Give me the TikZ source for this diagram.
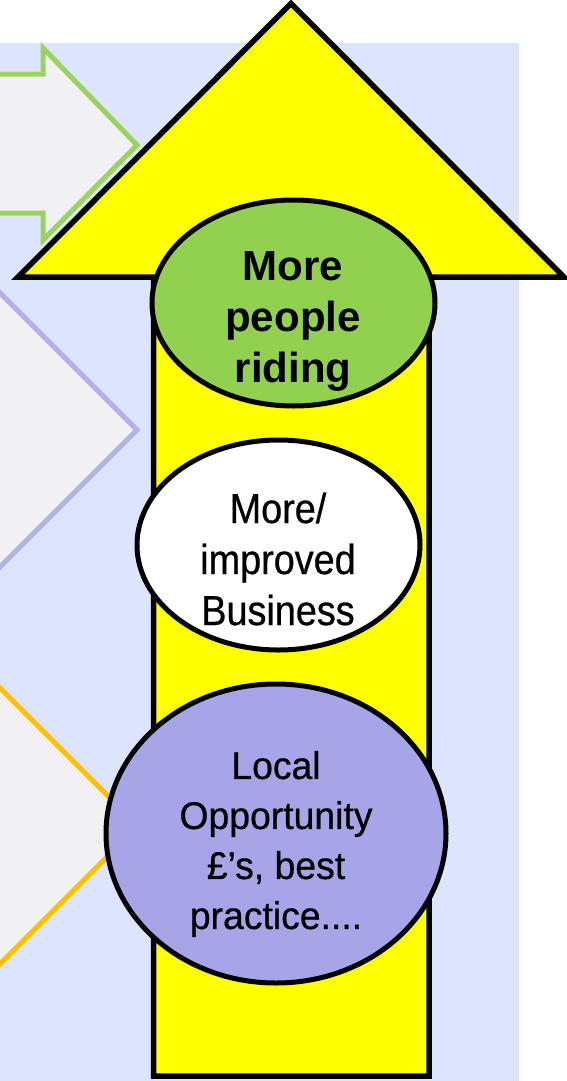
\documentclass[tikz,border=0pt]{standalone}
\usepackage{fontspec}
\usetikzlibrary{shapes.geometric}
\newfontfamily\lsans{Liberation Sans}
\newfontfamily\narrowA[FakeStretch=0.9,FakeBold=0.6]{Liberation Sans}
\newfontfamily\narrowB[FakeStretch=0.97,FakeBold=0.6]{Liberation Sans}
\definecolor{bgblue}{HTML}{DDE4FD}
\definecolor{shapefill}{HTML}{F1F1F3}
\definecolor{greenline}{HTML}{9BD35E}
\definecolor{greenfill}{HTML}{92D050}
\definecolor{purpleline}{HTML}{B3B3EA}
\definecolor{orangeline}{HTML}{FFC000}
\definecolor{purplefill}{HTML}{A5A5E8}
\definecolor{arrowyellow}{HTML}{FFFF00}
\tikzset{
  sideshape/.style={fill=shapefill, line width=5pt, line join=miter},
  bigarrow/.style={fill=arrowyellow, draw=black, line width=5.5pt, line join=miter},
  bubble/.style={ellipse, draw=black, line width=5pt, inner sep=0pt},
  bubbletext/.style={align=center, inner sep=0pt, text=black},
}
\begin{document}
\begin{tikzpicture}[x=1pt, y=-1pt]
\useasboundingbox (0,0) rectangle (567,1081);
\clip (0,0) rectangle (567,1081);
% background panel
\fill[bgblue] (0,43) rectangle (519,1090);
% left shapes
\draw[sideshape, draw=greenline] (-20,74) -- (43,74) -- (43,48) -- (137,145) -- (43,240) -- (43,213) -- (-20,213) -- cycle;
\draw[sideshape, draw=purpleline] (-20,273) -- (137,430) -- (-20,587) -- cycle;
\draw[sideshape, draw=orangeline] (-20,668) -- (138,826) -- (-20,984) -- cycle;
% big yellow arrow
\draw[bigarrow] (291,3.5) -- (564,277) -- (429,277) -- (429,1076) -- (153.5,1076) -- (153.5,277) -- (18,277) -- cycle;
% bubbles
\node[bubble, fill=greenfill, minimum width=283pt, minimum height=206pt] (riding) at (293.5,303) {};
\node[bubble, fill=white, minimum width=283pt, minimum height=210pt] (business) at (278.5,545) {};
\node[bubble, fill=purplefill, minimum width=340pt, minimum height=299pt] (local) at (276,833.5) {};
% texts
\node[bubbletext, font={\lsans\bfseries\fontsize{42}{51}\selectfont}] (ridingtext) at (293,321) {More\\people\\riding};
\node[bubbletext, font={\narrowA\fontsize{42}{51}\selectfont}] (businesstext) at (278,559) {More/\\improved\\Business};
\node[bubbletext, font={\narrowB\fontsize{38.5}{50}\selectfont}] (localtext) at (276,844) {Local\\Opportunity\\£’s, best\\practice....};
\end{tikzpicture}
\end{document}
